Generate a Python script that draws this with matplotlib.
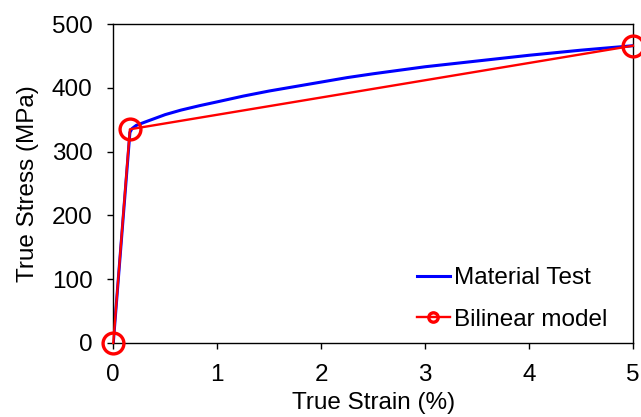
import matplotlib
matplotlib.use("Agg")
import matplotlib.pyplot as plt

# data
test_strain = [0, 0.16, 0.18, 0.22, 0.3, 0.4, 0.5, 0.65, 0.83, 1.0, 1.25, 1.5, 1.75,
               2.0, 2.25, 2.5, 3.0, 3.5, 4.0, 4.5, 5.0]
test_stress = [0, 330, 336, 341, 346, 352, 358, 365, 372, 378, 387, 395, 402,
               409, 416, 422, 433, 442, 451, 459, 466]

model_strain = [0, 0.16, 5.0]
model_stress = [0, 335, 466]

plt.rcParams['font.family'] = ['Liberation Sans', 'DejaVu Sans']

fig = plt.figure(figsize=(6.41, 4.17), dpi=100)
ax = fig.add_axes([0.1767, 0.1775, 0.8108, 0.7649])

ax.plot(test_strain, test_stress, color='#0000ff', lw=2.2, label='Material Test', zorder=2)
ax.plot(model_strain, model_stress, color='#ff0000', lw=1.7, marker='o', ms=15,
        mfc='none', mec='#ff0000', mew=2.4, label='Bilinear model', clip_on=False, zorder=3)

ax.set_xlim(0, 5)
ax.set_ylim(0, 500)
ax.set_xticks(range(0, 6))
ax.set_yticks(range(0, 501, 100))
ax.tick_params(labelsize=17.5, length=4.5, width=1, direction='out', pad=10.5)
ax.set_xlabel('True Strain (%)', fontsize=17.5, labelpad=4.5)
ax.set_ylabel('True Stress (MPa)', fontsize=17.5, labelpad=9)
for s in ax.spines.values():
    s.set_linewidth(1.0)

ax.legend(loc='upper left', bbox_to_anchor=(0.584, 0.238), frameon=False, fontsize=17.5,
          handlelength=1.35, handletextpad=0.2, labelspacing=0.8, borderpad=0,
          borderaxespad=0, markerscale=0.45)

fig.savefig('out.png', dpi=100)
